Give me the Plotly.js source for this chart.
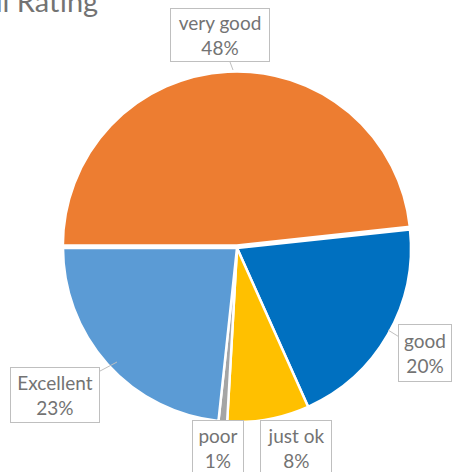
<!DOCTYPE html>
<html>
<head>
<meta charset="utf-8">
<script src="https://cdn.plot.ly/plotly-3.0.1.min.js"></script>
<style>html,body{margin:0;padding:0;background:#fff;}#chart{width:452px;height:472px;}</style>
</head>
<body>
<div id="chart"></div>
<script>
// Data
const categories = ["very good", "good", "just ok", "poor", "Excellent"];
const shares = [48.3, 20.0, 7.6, 0.8, 23.3];
const sliceColors = ["#ED7D31", "#0070C0", "#FFC000", "#A5A5A5", "#5B9BD5"];
const chartTitle = "Overall Rating";

const W = 452, H = 472;
const px = x => x / W;
const py = y => 1 - y / H;

const total = shares.reduce((a, b) => a + b, 0);
const pctText = shares.map(v => Math.round(v / total * 100) + "%");

// callout box layout (pixels): center, size, arrow tip
const boxes = [
  {cx: 220, cy: 35, w: 96, h: 50, tx: 233, ty: 70},
  {cx: 425, cy: 353, w: 50, h: 54, tx: 388, ty: 330},
  {cx: 296, cy: 448, w: 68, h: 52, tx: 296, ty: 420},
  {cx: 218, cy: 448, w: 48, h: 52, tx: 218, ty: 420},
  {cx: 55, cy: 395, w: 86, h: 52, tx: 117, ty: 362}
];

const font = "Lato, 'Open Sans', sans-serif";
const annotations = categories.map((c, i) => {
  const b = boxes[i];
  return {
    xref: "paper", yref: "paper",
    x: px(b.tx), y: py(b.ty),
    ax: b.cx - b.tx, ay: b.cy - b.ty,
    showarrow: b.ty !== 420,
    arrowhead: 0, arrowwidth: 1, arrowcolor: "#BFBFBF",
    text: c + "<br>" + pctText[i],
    width: b.w, height: b.h, borderpad: 1,
    bgcolor: "#FFFFFF", bordercolor: "#BFBFBF", borderwidth: 1,
    font: {family: font, size: 19, color: "#737373"},
    align: "center", valign: "middle"
  };
}).map((a, i) => {
  if (!a.showarrow) {
    const b = boxes[i];
    a.x = px(b.cx); a.y = py(b.cy);
    a.xanchor = "center"; a.yanchor = "middle";
    delete a.ax; delete a.ay;
  }
  return a;
});

annotations.push({
  xref: "paper", yref: "paper",
  x: px(100), y: py(1),
  xanchor: "right", yanchor: "middle",
  showarrow: false,
  text: chartTitle,
  font: {family: font, size: 29, color: "#737373"}
});

const rmax = 174 * 1.015;
const cx = 237, cy = 248;

const trace = {
  type: "pie",
  labels: categories,
  values: shares,
  sort: false,
  direction: "clockwise",
  rotation: -90,
  pull: [0.015, 0, 0, 0, 0],
  marker: {colors: sliceColors, line: {color: "#FFFFFF", width: 2.5}},
  textinfo: "none",
  hoverinfo: "label+percent",
  domain: {x: [px(cx - rmax), px(cx + rmax)], y: [py(cy + rmax), py(cy - rmax)]}
};

Plotly.newPlot("chart", [trace], {
  width: W, height: H,
  margin: {l: 0, r: 0, t: 0, b: 0},
  showlegend: false,
  paper_bgcolor: "#FFFFFF",
  annotations: annotations
}, {staticPlot: true});
</script>
</body>
</html>
